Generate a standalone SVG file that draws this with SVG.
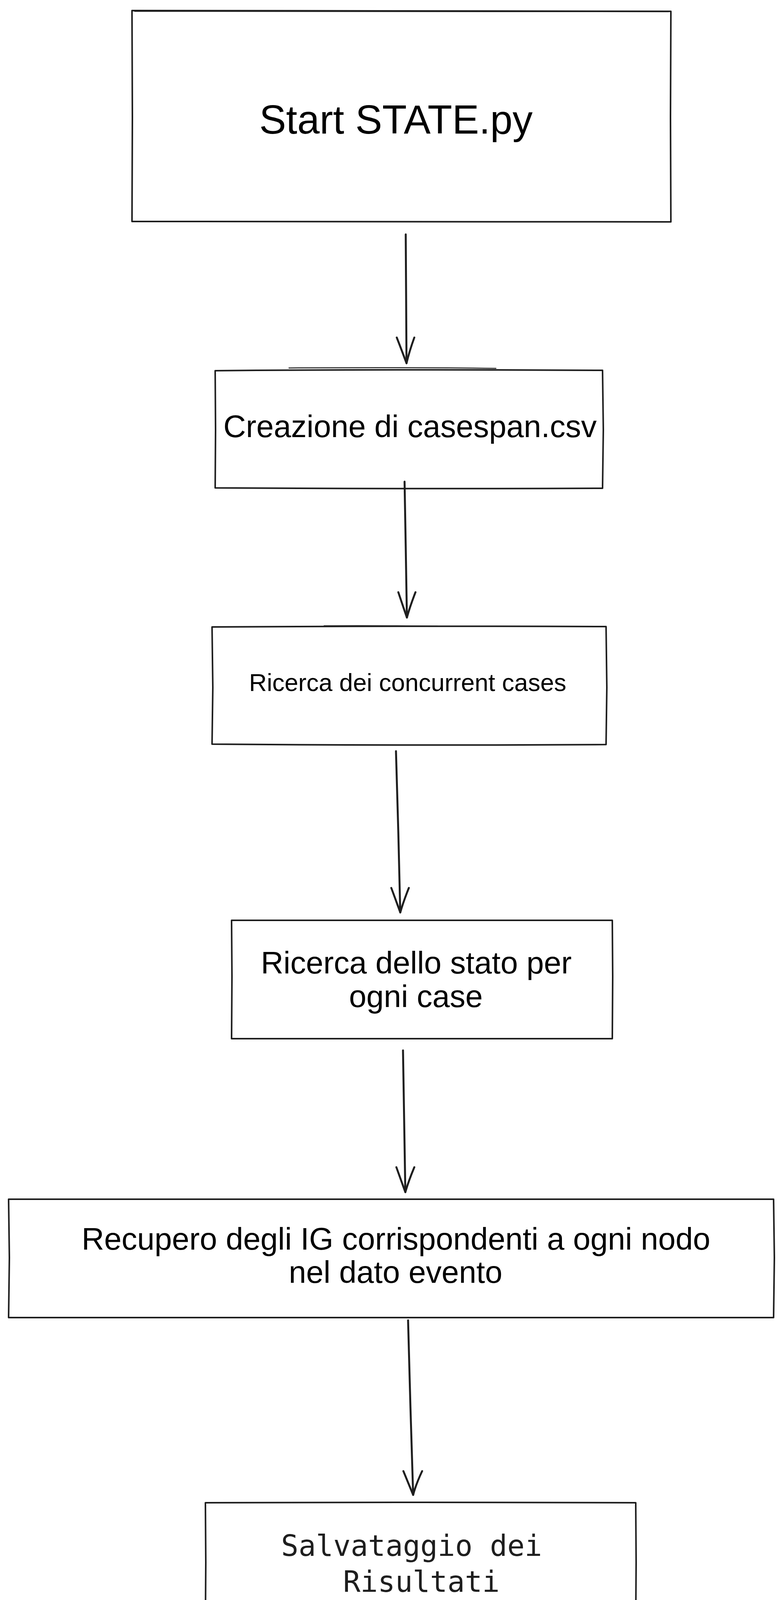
<svg xmlns="http://www.w3.org/2000/svg" width="2000" height="5144" viewBox="0 0 2000 5144">
<style>
.box{fill:none;stroke:#1e1e1e;stroke-width:4;stroke-linecap:round;stroke-linejoin:round}
.box2{fill:none;stroke:#1e1e1e;stroke-width:2.5;stroke-linecap:round}
.arr{fill:none;stroke:#1e1e1e;stroke-width:5;stroke-linecap:round;stroke-linejoin:round}
.sans{font-family:"Liberation Sans",Arial,sans-serif;fill:#000;text-anchor:middle}
.mono{font-family:"DejaVu Sans Mono","Liberation Mono",monospace;fill:#1e1e1e;text-anchor:middle}
</style>
<rect width="2000" height="5144" fill="#ffffff"/>
<g id="connectors">
<path class="arr" d="M1039 600 L1040 760 L1041 930"/>
<path class="arr" d="M1016 864 Q1030 900 1041 930 Q1048 900 1061 864"/>
<path class="arr" d="M1036 1233 L1039 1400 L1042 1581"/>
<path class="arr" d="M1020 1516 Q1032 1552 1042 1581 Q1050 1552 1064 1516"/>
<path class="arr" d="M1014 1923 L1020 2130 L1025 2336"/>
<path class="arr" d="M1002 2273 Q1015 2308 1025 2336 Q1033 2308 1047 2273"/>
<path class="arr" d="M1032 2689 L1035 2870 L1038 3052"/>
<path class="arr" d="M1015 2988 Q1028 3024 1038 3052 Q1046 3024 1061 2988"/>
<path class="arr" d="M1045 3380 L1051 3600 L1058 3827"/>
<path class="arr" d="M1033 3766 Q1047 3800 1058 3827 Q1065 3800 1081 3766"/>
<path class="arr" d="M1020 4174 L1027 4340 L1034 4512"/>
<path class="arr" d="M1009 4449 Q1022 4485 1034 4512 Q1040 4485 1055 4448"/>
</g>
<g id="node-start">
<path class="box" d="M338 27 Q1030 25 1718 29 L1717 300 L1718 568 Q1030 570 338 567 L339 300 Z"/>
<path class="box2" d="M345 29 Q1030 31 1712 30"/>
<text class="sans" x="1014" y="342" font-size="103">Start STATE.py</text>
</g>
<g id="node-casespan">
<path class="box" d="M551 949 Q1050 945 1543 948 L1545 1100 L1543 1250 Q1050 1252 551 1249 L552 1100 Z"/>
<path class="box2" d="M740 942 Q1050 940 1270 943"/>
<text class="sans" x="1050" y="1119" font-size="80">Creazione di casespan.csv</text>
</g>
<g id="node-concurrent">
<path class="box" d="M543 1605 Q1050 1602 1552 1604 L1554 1760 L1552 1906 Q1050 1909 543 1905 L545 1760 Z"/>
<path class="box2" d="M830 1602 Q950 1601 1120 1603"/>
<text class="sans" x="1044" y="1769" font-size="63">Ricerca dei concurrent cases</text>
</g>
<g id="node-stato">
<path class="box" d="M593 2356 Q1080 2354 1568 2356 L1569 2500 L1568 2659 Q1080 2661 593 2659 L594 2500 Z"/>
<text class="sans" x="1066" y="2492" font-size="80">Ricerca dello stato per</text>
<text class="sans" x="1065" y="2578" font-size="80">ogni case</text>
</g>
<g id="node-recupero">
<path class="box" d="M22 3070 Q1000 3068 1981 3070 L1983 3220 L1981 3373 Q1000 3375 22 3373 L24 3220 Z"/>
<text class="sans" x="1014" y="3199" font-size="80">Recupero degli IG corrispondenti a ogni nodo</text>
<text class="sans" x="1013" y="3284" font-size="80">nel dato evento</text>
</g>
<g id="node-salvataggio">
<path class="box" d="M526 3847 Q1077 3845 1628 3847 L1629 4000 L1628 4153 Q1077 4155 526 4153 L527 4000 Z"/>
<text class="mono" x="1054" y="3983" font-size="74">Salvataggio dei</text>
<text class="mono" x="1079" y="4075" font-size="74">Risultati</text>
</g>
<g id="node-fine">
<path class="box" d="M1034 4521 L1354 4825 L1034 5125 L713 4825 Z"/>
<path class="box2" d="M716 4828 L1032 5122"/>
<text class="mono" x="1034" y="4851" font-size="72">Fine</text>
</g>
</svg>
